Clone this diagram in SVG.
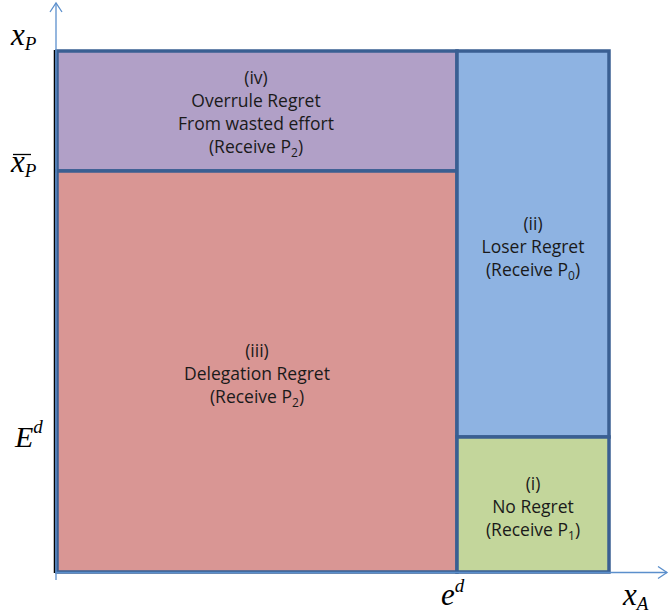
<svg xmlns="http://www.w3.org/2000/svg" width="670" height="614" viewBox="0 0 670 614">
<style>
.reg{stroke:#3A5F92;stroke-width:3.5}
.lbl{font-family:"Open Sans","Liberation Sans",sans-serif;font-size:17.5px;fill:#1a1a1a;text-anchor:middle}
.ax{font-family:"Liberation Serif",serif;font-style:italic;fill:#000}
.axis{stroke:#5B8FCC;stroke-width:1.3;fill:none}
</style>
<defs>
<marker id="arr" markerWidth="14" markerHeight="14" refX="10" refY="7" orient="auto" markerUnits="userSpaceOnUse">
<path d="M1,1 L10,7 L1,13" fill="none" stroke="#5B8FCC" stroke-width="1.3"/>
</marker>
</defs>
<rect width="670" height="614" fill="#fff"/>
<g id="regions">
<g id="iv">
<rect class="reg" x="57" y="51" width="400" height="120" fill="#B1A0C7"/>
<text class="lbl" x="256" y="84">(iv)</text>
<text class="lbl" x="256" y="107">Overrule Regret</text>
<text class="lbl" x="256" y="130">From wasted effort</text>
<text class="lbl" x="256" y="153">(Receive P<tspan font-size="12" dy="4">2</tspan><tspan dy="-4">)</tspan></text>
</g>
<g id="iii">
<rect class="reg" x="57" y="171" width="400" height="401" fill="#D99694"/>
<text class="lbl" x="257" y="357">(iii)</text>
<text class="lbl" x="257" y="380">Delegation Regret</text>
<text class="lbl" x="257" y="403">(Receive P<tspan font-size="12" dy="4">2</tspan><tspan dy="-4">)</tspan></text>
</g>
<g id="ii">
<rect class="reg" x="457" y="51" width="152" height="386" fill="#8EB3E2"/>
<text class="lbl" x="533" y="230">(ii)</text>
<text class="lbl" x="533" y="253">Loser Regret</text>
<text class="lbl" x="533" y="276">(Receive P<tspan font-size="12" dy="4">0</tspan><tspan dy="-4">)</tspan></text>
</g>
<g id="i">
<rect class="reg" x="457" y="437" width="152" height="135" fill="#C3D69B"/>
<text class="lbl" x="533" y="490">(i)</text>
<text class="lbl" x="533" y="513">No Regret</text>
<text class="lbl" x="533" y="536">(Receive P<tspan font-size="12" dy="4">1</tspan><tspan dy="-4">)</tspan></text>
</g>
</g>
<g id="connectors">
<line x1="54.5" y1="50" x2="54.5" y2="573" stroke="#000" stroke-width="1.5"/>
<line class="axis" x1="56" y1="580" x2="56" y2="3" marker-end="url(#arr)"/>
<line class="axis" x1="56" y1="572.5" x2="667" y2="572.5" marker-end="url(#arr)"/>
</g>
<g id="axis-labels">
<text class="ax" x="11" y="45" font-size="31">x<tspan font-size="19" dy="5">P</tspan></text>
<line x1="13" y1="154.5" x2="31" y2="154.5" stroke="#000" stroke-width="1.3"/>
<text class="ax" x="11" y="172" font-size="31">x<tspan font-size="19" dy="5">P</tspan></text>
<text class="ax" x="15" y="447" font-size="30">E<tspan font-size="19" dy="-14">d</tspan></text>
<text class="ax" x="441" y="605" font-size="31">e<tspan font-size="19" dy="-13">d</tspan></text>
<text class="ax" x="623" y="605" font-size="31">x<tspan font-size="19" dy="5">A</tspan></text>
</g>
</svg>
